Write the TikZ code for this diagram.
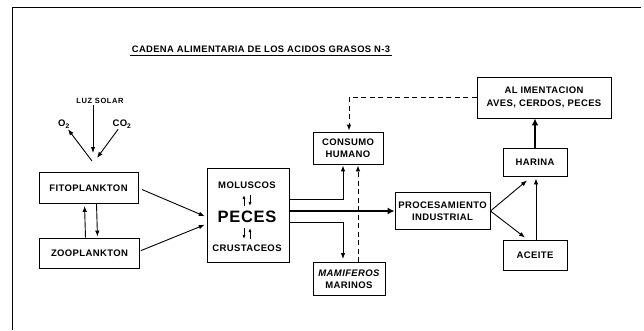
\documentclass[tikz,border=0pt]{standalone}
\usepackage{fontspec}
\setmainfont{Liberation Sans}
\newfontfamily\lab{Liberation Sans}[LetterSpace=4]
\newfontfamily\labwide{Liberation Sans}[LetterSpace=8]
\usetikzlibrary{arrows.meta,calc}
\tikzset{
  box/.style={draw, line width=0.9pt, inner sep=0pt, align=center,
    font=\lab\bfseries\fontsize{9.5}{12.5}\selectfont},
  arr/.style={line width=0.9pt, -{Latex[length=6pt,width=4.5pt]}},
  thickarr/.style={line width=2.6pt, -{Latex[length=7pt,width=7pt]}},
  dsh/.style={dash pattern=on 5pt off 3.5pt},
  txt/.style={inner sep=1pt, font=\lab\bfseries\fontsize{9.5}{11}\selectfont},
}
\begin{document}
\begin{tikzpicture}[x=1pt,y=-1pt]
\useasboundingbox (0,0) rectangle (644,330);
% frame
\draw[line width=0.8pt] (12,330) -- (12,7) -- (641,7);
% title
\node[inner sep=0pt, font=\lab\bfseries\fontsize{9.4}{11}\selectfont] (title) at (261,49)
  {CADENA\ ALIMENTARIA\ DE LOS\ ACIDOS\ GRASOS\ N-3};
\draw[line width=0.8pt] ($(title.south west)+(-2,3)$) -- ($(title.south east)+(2,3)$);
% sunlight
\node[inner sep=1pt, font=\labwide\bfseries\fontsize{7.5}{9}\selectfont] (luz) at (100,101) {LUZ SOLAR};
\node[txt] (o2) at (64,124) {O\textsubscript{2}};
\node[txt] (co2) at (122,124) {CO\textsubscript{2}};
\coordinate (ptluz) at (93,153);
\coordinate (pto2) at (92,161);
\coordinate (ptco2) at (97,158);
\draw[arr] (luz.south -| ptluz) -- (ptluz);
\draw[arr] (pto2) -- (o2);
\draw[arr] (co2) -- (ptco2);
% boxes
\node[box, minimum width=99pt, minimum height=31pt] (fito) at (88.5,188) {FITOPLANKTON};
\node[box, minimum width=100pt, minimum height=30pt] (zoo) at (89.5,253) {ZOOPLANKTON};
\node[box, minimum width=82pt, minimum height=94pt] (peces) at (248,215) {};
\node[txt] (mol) at (247,185) {MOLUSCOS};
\node[inner sep=0pt, font=\lab\bfseries\fontsize{16.5}{18}\selectfont] (pec) at (247,217) {PECES};
\node[txt] (cru) at (247,248) {CRUSTACEOS};
\node[box, minimum width=70pt, minimum height=32pt] (consumo) at (348,148) {CONSUMO\\HUMANO};
\node[box, minimum width=72pt, minimum height=33pt] (mamif) at (349,279) {\itshape MAMIFEROS\\MARINOS};
\node[box, minimum width=95pt, minimum height=37pt] (proc) at (442.5,211) {PROCESAMIENTO\\INDUSTRIAL};
\node[box, minimum width=134pt, minimum height=41pt] (alim) at (544,97.5) {AL IMENTACION\\AVES, CERDOS, PECES};
\node[box, minimum width=64pt, minimum height=28pt] (harina) at (535,162) {HARINA};
\node[box, minimum width=64pt, minimum height=30pt] (aceite) at (535,255) {ACEITE};
% small arrows inside peces box
\draw[arr, -{Latex[length=4pt,width=3pt]}, line width=0.8pt] (244,206) -- (244,195);
\draw[arr, -{Latex[length=4pt,width=3pt]}, line width=0.8pt] (250,195) -- (250,206);
\draw[arr, -{Latex[length=4pt,width=3pt]}, line width=0.8pt] (244,228) -- (244,239);
\draw[arr, -{Latex[length=4pt,width=3pt]}, line width=0.8pt] (250,239) -- (250,228);
% connectors
\draw[arr, shorten >=2pt] ($(zoo.north)+(-4,0)$) -- ($(fito.south)+(-4,0)$);
\draw[arr, shorten >=1pt] ($(fito.south)+(8,0)$) -- ($(zoo.north)+(8,0)$);
\draw[arr, shorten <=4pt, shorten >=2pt] (fito.east) -- ($(peces.west)+(0,2)$);
\draw[arr, shorten <=1pt, shorten >=2pt] ($(zoo.east)+(0,-2)$) -- ($(peces.west)+(0,9)$);
\draw[arr, shorten >=1pt] ($(peces.east)+(0,-16)$) -| ($(consumo.south)+(-5,0)$);
\draw[thickarr] (peces.east |- proc.west) -- (proc.west);
\draw[arr, shorten >=3pt] ($(peces.east)+(0,7)$) -| ($(mamif.north)+(-6,0)$);
\draw[arr, dsh, shorten >=1pt] ($(mamif.north)+(9,0)$) -- ($(consumo.south)+(10,0)$);
\draw[arr, dsh, shorten >=1pt] (alim.west) -| ($(consumo.north)+(1,0)$);
\draw[arr] (proc.east) -- ($(harina.south)+(-8,4)$);
\draw[arr] (proc.east) -- ($(aceite.north)+(-10,-2)$);
\draw[arr, shorten >=2pt] ($(aceite.north)+(1,0)$) -- ($(harina.south)+(1,0)$);
\draw[thickarr] (harina.north) -- (harina.north |- alim.south);
\end{tikzpicture}
\end{document}
